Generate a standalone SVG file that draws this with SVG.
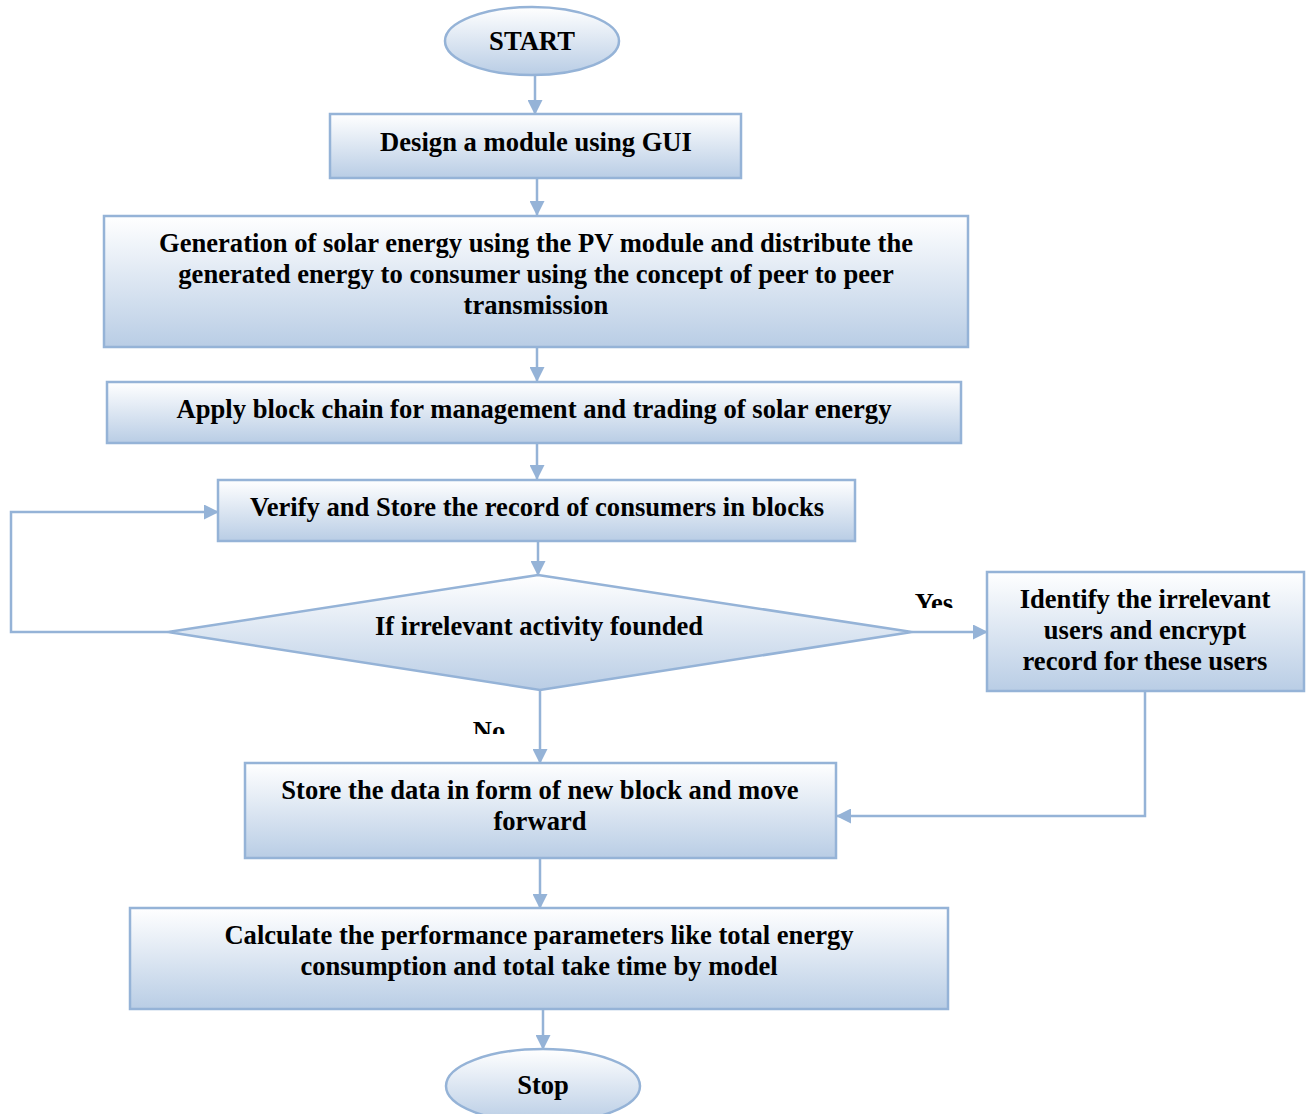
<svg xmlns="http://www.w3.org/2000/svg" width="1309" height="1114" viewBox="0 0 1309 1114">
<defs>
<linearGradient id="g" x1="0" y1="0" x2="0" y2="1">
<stop offset="0" stop-color="#FFFFFF"/>
<stop offset="1" stop-color="#B9CDE5"/>
</linearGradient>
<marker id="ah" markerWidth="15" markerHeight="15" refX="14" refY="7.5" orient="auto" markerUnits="userSpaceOnUse">
<path d="M0,0 L15,7.5 L0,15 Z" fill="#95B3D7"/>
</marker>
<clipPath id="cy"><rect x="900" y="585" width="70" height="23"/></clipPath>
<clipPath id="cn"><rect x="460" y="712" width="60" height="22"/></clipPath>
</defs>
<style>
.n{fill:url(#g);stroke:#95B3D7;stroke-width:2.5}
.t{font-family:"Liberation Serif","Times New Roman",serif;font-weight:bold;font-size:26.6px;fill:#000;text-anchor:middle}
.c{fill:none;stroke:#95B3D7;stroke-width:2.5;marker-end:url(#ah)}
</style>
<rect width="1309" height="1114" fill="#fff"/>
<g id="connectors">
<path class="c" d="M535,75 V114"/>
<path class="c" d="M537,178 V215"/>
<path class="c" d="M537,347 V381"/>
<path class="c" d="M537,443 V479"/>
<path class="c" d="M538,541 V575"/>
<path class="c" d="M168,632 H11 V512 H218"/>
<path class="c" d="M912,632 H987"/>
<path class="c" d="M540,690 V763"/>
<path class="c" d="M1145,691 V816 H837"/>
<path class="c" d="M540,858 V908"/>
<path class="c" d="M543,1009 V1049"/>
<text class="t" x="934" y="612" clip-path="url(#cy)">Yes</text>
<text class="t" x="489" y="740" clip-path="url(#cn)">No</text>
</g>
<g id="start">
<ellipse class="n" cx="532" cy="41" rx="87" ry="34"/>
<text class="t" x="532" y="50">START</text>
</g>
<g id="design">
<rect class="n" x="330" y="114" width="411" height="64"/>
<text class="t" x="536" y="151">Design a module using GUI</text>
</g>
<g id="generation">
<rect class="n" x="104" y="216" width="864" height="131"/>
<text class="t" x="536" y="252">Generation of solar energy using the PV module and distribute the</text>
<text class="t" x="536" y="283">generated energy to consumer using the concept of peer to peer</text>
<text class="t" x="536" y="314">transmission</text>
</g>
<g id="apply">
<rect class="n" x="107" y="382" width="854" height="61"/>
<text class="t" x="534" y="418">Apply block chain for management and trading of solar energy</text>
</g>
<g id="verify">
<rect class="n" x="218" y="480" width="637" height="61"/>
<text class="t" x="537" y="516">Verify and Store the record of consumers in blocks</text>
</g>
<g id="decision">
<polygon class="n" points="538,575 912,632 540,690 168,632"/>
<text class="t" x="539" y="635">If irrelevant activity founded</text>
</g>
<g id="identify">
<rect class="n" x="987" y="572" width="317" height="119"/>
<text class="t" x="1145" y="608">Identify the irrelevant</text>
<text class="t" x="1145" y="639">users and encrypt</text>
<text class="t" x="1145" y="670">record for these users</text>
</g>
<g id="store">
<rect class="n" x="245" y="763" width="591" height="95"/>
<text class="t" x="540" y="799">Store the data in form of new block and move</text>
<text class="t" x="540" y="830">forward</text>
</g>
<g id="calculate">
<rect class="n" x="130" y="908" width="818" height="101"/>
<text class="t" x="539" y="944">Calculate the performance parameters like total energy</text>
<text class="t" x="539" y="975">consumption and total take time by model</text>
</g>
<g id="stop">
<ellipse class="n" cx="543" cy="1086" rx="97" ry="37"/>
<text class="t" x="543" y="1094">Stop</text>
</g>
</svg>
